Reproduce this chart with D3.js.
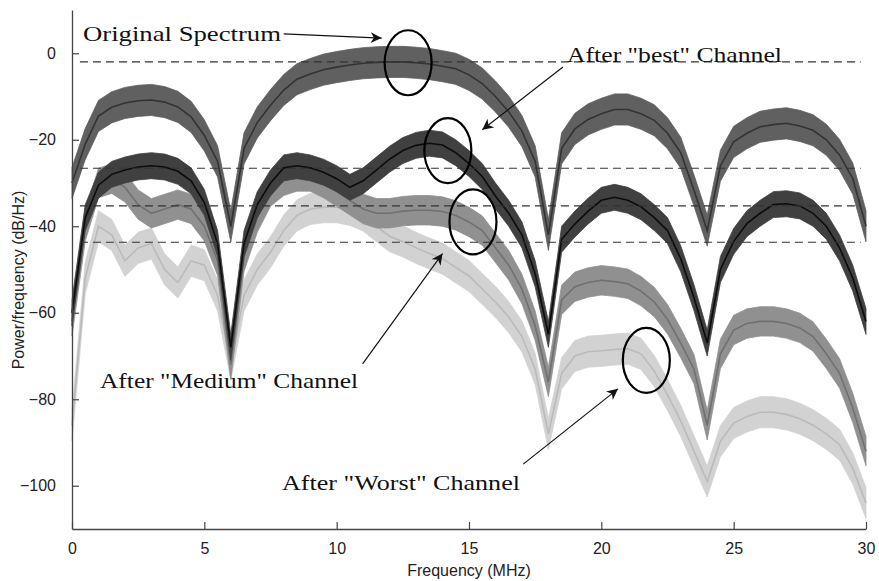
<!DOCTYPE html>
<html>
<head>
<meta charset="utf-8">
<script src="https://cdn.jsdelivr.net/npm/d3@7"></script>
<style>
  html, body { margin: 0; padding: 0; background: #fff; }
  svg { display: block; }
  .tick text { font-family: "Liberation Sans", Arial, sans-serif; font-size: 16px; fill: #222; }
  .note { font-family: "Liberation Serif", "Times New Roman", serif; font-size: 22px; fill: #111; }
</style>
</head>
<body>
<div id="chart"></div>
<script>
// frequency grid (MHz)
const freqMHz = [0, 0.5, 1, 1.5, 2, 2.5, 3, 3.5, 4, 4.5, 5, 5.5, 6, 6.5, 7, 7.5, 8, 8.5, 9, 9.5,
  10, 10.5, 11, 11.5, 12, 12.5, 13, 13.5, 14, 14.5, 15, 15.5, 16, 16.5, 17, 17.5, 18, 18.5, 19, 19.5,
  20, 20.5, 21, 21.5, 22, 22.5, 23, 23.5, 24, 24.5, 25, 25.5, 26, 26.5, 27, 27.5, 28, 28.5, 29, 29.5, 30];

// power spectral density (dB/Hz)
const originalDb = [-30, -21, -14.5, -12.5, -11.5, -11, -10.8, -11.3, -12.4, -14.7, -19, -25, -40, -22, -16, -12, -8.5, -6, -4.8, -3.8,
  -3.2, -2.7, -2.3, -2.1, -2, -2, -2.2, -2.5, -3, -3.6, -5, -7, -10, -13.5, -18, -25, -42, -22, -17.5, -15.3,
  -14, -13, -13, -14, -15.5, -18.5, -23, -31.7, -41, -26, -20.5, -18.5, -17, -16.5, -16.2, -16.8, -17.8, -20, -23.5, -29, -40];

const bestDb = [-60, -38, -30.5, -28, -27, -26.3, -26, -26.3, -27.3, -29.5, -34.5, -44, -68, -44, -35, -30, -26.5, -26, -26.5, -27.5,
  -29, -31, -29.5, -27, -24.5, -22.5, -21.3, -20.8, -21.2, -23, -25.5, -28.5, -33, -37, -42, -51, -65, -43, -39.5, -36.5,
  -34, -33.3, -34, -35.5, -38, -41, -47.5, -56.5, -67, -50, -43.5, -39.4, -37, -35, -34.8, -35.3, -37, -40, -45, -52, -62];

const mediumDb = [-62, -40, -30, -29, -31, -35, -37, -36, -35, -36, -40, -48, -72, -47, -38, -32, -29.5, -28.5, -28.5, -30,
  -32, -34, -36, -37, -37, -36.5, -36.3, -36.3, -36.6, -37.5, -39, -41, -45, -49, -54.5, -63, -76, -57, -54, -53,
  -52.5, -52.8, -53.3, -55, -57.5, -61.5, -67, -73, -86, -69.5, -64, -62.5, -62, -62, -62.5, -63.5, -65.5, -69.5, -74, -82, -92];

const worstDb = [-86, -52, -40, -42, -48, -45, -44, -50, -53, -48, -49, -56, -72, -56, -50, -46, -41, -37.5, -36, -35.6,
  -35.6, -36.2, -37.5, -40, -42.3, -43.5, -45, -46.3, -47.5, -49.5, -51.5, -54.5, -57.5, -61, -65.5, -73, -88, -74, -70, -69,
  -68.8, -68.5, -68.3, -69.5, -73.5, -79, -85, -92, -99, -89.7, -85.5, -84, -83, -83, -83.5, -84.5, -86, -88, -90.5, -96, -104];

// half height of the noisy band of each trace (dB)
const noiseSpread = { worst: 3.6, medium: 3.4, original: 3.6, best: 3 };

// dashed reference levels (dB)
const refLevels = [-2, -26.6, -35.3, -43.7];

const xTicks = [0, 5, 10, 15, 20, 25, 30];
const yTicks = [0, -20, -40, -60, -80, -100];

const width = 879;
const height = 581;
const plotLeft = 72, plotRight = 866, plotTop = 10, plotBottom = 529;

const x = d3.scaleLinear().domain([0, 30]).range([plotLeft, plotRight]);
const y = d3.scaleLinear().domain([-110, 10]).range([plotBottom, plotTop]);

const svg = d3.select('#chart').append('svg').attr('width', width).attr('height', height);

const traces = [
  { name: 'worst', values: worstDb, fill: '#d2d2d2', stroke: '#bababa' },
  { name: 'medium', values: mediumDb, fill: '#909090', stroke: '#707070' },
  { name: 'original', values: originalDb, fill: '#606060', stroke: '#333' },
  { name: 'best', values: bestDb, fill: '#404040', stroke: '#0c0c0c' },
];

traces.forEach((t) => {
  const s = noiseSpread[t.name];
  const pts = freqMHz.map((f, i) => [f, t.values[i]]);

  const band = d3.area()
    .x((d) => x(d[0]))
    .y0((d) => y(d[1] - s))
    .y1((d) => y(d[1] + s));

  svg.append('path')
    .datum(pts)
    .attr('d', band)
    .attr('fill', t.fill)
    .attr('stroke', t.fill)
    .attr('stroke-width', 0.8);

  const line = d3.line()
    .x((d) => x(d[0]))
    .y((d) => y(d[1]));

  svg.append('path')
    .datum(pts)
    .attr('d', line)
    .attr('fill', 'none')
    .attr('stroke', t.stroke)
    .attr('stroke-width', 1.6);
});

// dashed levels
svg.selectAll('.ref')
  .data(refLevels)
  .enter()
  .append('line')
  .attr('class', 'ref')
  .attr('x1', x(0.3))
  .attr('x2', x(29.8))
  .attr('y1', (d) => y(d))
  .attr('y2', (d) => y(d))
  .attr('stroke', '#333')
  .attr('stroke-width', 1.1)
  .attr('stroke-dasharray', '8,5');

// axes (ticks inside, like matlab)
const xAxis = d3.axisBottom(x).tickValues(xTicks).tickSizeInner(-7).tickSizeOuter(0).tickPadding(14);
const yAxis = d3.axisLeft(y).tickValues(yTicks).tickSizeInner(-7).tickSizeOuter(0).tickPadding(14);

const gx = svg.append('g').attr('transform', 'translate(0,' + plotBottom + ')').call(xAxis);
const gy = svg.append('g').attr('transform', 'translate(' + plotLeft + ',0)').call(yAxis);
[gx, gy].forEach((g) => {
  g.select('.domain').attr('stroke', '#444').attr('stroke-width', 1.3);
  g.selectAll('.tick line').attr('stroke', '#444').attr('stroke-width', 1.2);
});
gy.selectAll('.tick text').attr('dx', '-2px');

// axis labels
svg.append('text')
  .text('Frequency (MHz)')
  .attr('x', (plotLeft + plotRight) / 2)
  .attr('y', 576)
  .attr('text-anchor', 'middle')
  .style('font-family', '"Liberation Sans", Arial, sans-serif')
  .style('font-size', '16px')
  .attr('fill', '#222');

svg.append('text')
  .text('Power/frequency (dB/Hz)')
  .attr('transform', 'translate(24,' + 280 + ') rotate(-90)')
  .attr('text-anchor', 'middle')
  .style('font-family', '"Liberation Sans", Arial, sans-serif')
  .style('font-size', '16px')
  .attr('fill', '#222');

// annotations: circles, arrows, notes
svg.append('defs').append('marker')
  .attr('id', 'head')
  .attr('viewBox', '0 0 10 10')
  .attr('refX', 10)
  .attr('refY', 5)
  .attr('markerWidth', 16)
  .attr('markerHeight', 11)
  .attr('markerUnits', 'userSpaceOnUse')
  .attr('orient', 'auto')
  .append('path')
  .attr('d', 'M0,0 L10,5 L0,10 L3,5 Z')
  .attr('fill', '#111');

const circles = [
  { f: 12.7, db: -2.2 },
  { f: 14.2, db: -22.5 },
  { f: 15.15, db: -39 },
  { f: 21.7, db: -71 },
];
svg.selectAll('.ring')
  .data(circles)
  .enter()
  .append('ellipse')
  .attr('cx', (d) => x(d.f))
  .attr('cy', (d) => y(d.db))
  .attr('rx', 23.5)
  .attr('ry', 32.5)
  .attr('fill', 'none')
  .attr('stroke', '#000')
  .attr('stroke-width', 2.2);

const arrows = [
  { f0: 8.0, db0: 4.5, f1: 11.7, db1: 3.5 },
  { f0: 18.55, db0: -3.2, f1: 15.5, db1: -17.7 },
  { f0: 10.98, db0: -71.8, f1: 14.0, db1: -46.3 },
  { f0: 17.05, db0: -95, f1: 20.63, db1: -77.6 },
];
svg.selectAll('.arrow')
  .data(arrows)
  .enter()
  .append('line')
  .attr('x1', (d) => x(d.f0))
  .attr('y1', (d) => y(d.db0))
  .attr('x2', (d) => x(d.f1))
  .attr('y2', (d) => y(d.db1))
  .attr('stroke', '#111')
  .attr('stroke-width', 1.2)
  .attr('marker-end', 'url(#head)');

const notes = [
  { text: 'Original Spectrum', px: 83, py: 41, w: 198 },
  { text: 'After "best" Channel', px: 567, py: 62, w: 215 },
  { text: 'After "Medium" Channel', px: 100, py: 388, w: 258 },
  { text: 'After "Worst" Channel', px: 282, py: 490, w: 238 },
];
svg.selectAll('.note')
  .data(notes)
  .enter()
  .append('text')
  .attr('class', 'note')
  .attr('x', (d) => d.px)
  .attr('y', (d) => d.py)
  .attr('textLength', (d) => d.w)
  .attr('lengthAdjust', 'spacingAndGlyphs')
  .text((d) => d.text);
</script>
</body>
</html>
